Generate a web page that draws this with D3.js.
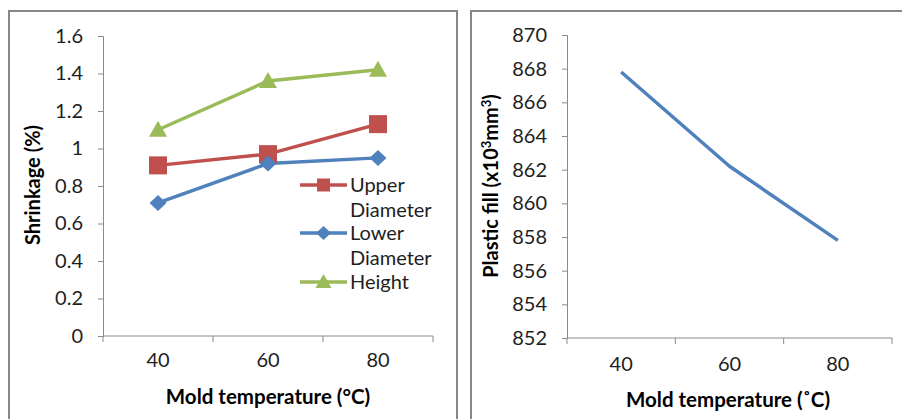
<!DOCTYPE html>
<html><head><meta charset="utf-8">
<script src="https://cdn.jsdelivr.net/npm/d3@7"></script>
<style>
body{margin:0;background:#fff;}
svg{display:block;font-family:Lato,"Open Sans",sans-serif;}
</style></head>
<body><svg id="c" width="902" height="419"></svg>
<script>
const temps = ["40","60","80"];
const upperDiameter = [0.91, 0.97, 1.13];
const lowerDiameter = [0.71, 0.92, 0.95];
const heightShrink = [1.10, 1.36, 1.42];
const shrinkTicks = [0,0.2,0.4,0.6,0.8,1,1.2,1.4,1.6];
const plasticFill = [867.8, 862.2, 857.8];
const fillTicks = [852,854,856,858,860,862,864,866,868,870];

const svg = d3.select("#c");
const border = "#878787";
const axisCol = "#8a8a8a";
const txtCol = "#1e1e1e";
const FONT = "Lato,'Open Sans',sans-serif";

// panel borders
svg.append("path").attr("d","M9,419V11H457V419").attr("fill","none").attr("stroke",border).attr("stroke-width",2);
svg.append("path").attr("d","M471,419V11H905").attr("fill","none").attr("stroke",border).attr("stroke-width",2);

function styleAxis(g){
  g.selectAll("path,line").attr("stroke",axisCol).attr("stroke-width",1);
  g.selectAll("text").attr("fill",txtCol).style("font-size","20px").style("font-family",FONT);
}
function catTicks(g, x){
  g.select(".domain").remove();
  const [a,b] = x.range();
  g.append("line").attr("x1",a).attr("x2",b).attr("stroke",axisCol);
  x.domain().map(d=>x(d)).concat([b]).forEach(xv=>{
    g.append("line").attr("x1",xv).attr("x2",xv).attr("y1",0).attr("y2",6).attr("stroke",axisCol);
  });
}

// ---- Left chart
const x1 = d3.scaleBand().domain(temps).range([103,433]);
const y1 = d3.scaleLinear().domain([0,1.6]).range([336,36]);
const gy1 = svg.append("g").attr("transform","translate(103,0)")
  .call(d3.axisLeft(y1).tickValues(shrinkTicks).tickFormat(d3.format("~g")).tickSize(5).tickPadding(15));
styleAxis(gy1);
const gx1 = svg.append("g").attr("transform","translate(0,336)")
  .call(d3.axisBottom(x1).tickSize(0).tickPadding(17));
styleAxis(gx1);
catTicks(gx1, x1);

const series = [
  {name:"Height", vals:heightShrink, color:"#9BBB59", shape:"tri"},
  {name:"Upper", vals:upperDiameter, color:"#C0504D", shape:"sq"},
  {name:"Lower", vals:lowerDiameter, color:"#4F81BD", shape:"dia"}
];
function marker(g, shape, color, cx, cy){
  if(shape==="sq") g.append("rect").attr("x",cx-9).attr("y",cy-9).attr("width",18).attr("height",18).attr("fill",color);
  else if(shape==="dia") g.append("path").attr("d",`M${cx},${cy-8}L${cx+8.5},${cy}L${cx},${cy+8}L${cx-8.5},${cy}Z`).attr("fill",color);
  else g.append("path").attr("d",`M${cx},${cy-9}L${cx+9},${cy+7}L${cx-9},${cy+7}Z`).attr("fill",color);
}
const cx1 = i => x1(temps[i])+x1.bandwidth()/2;
const line1 = d3.line().x((d,i)=>cx1(i)).y(d=>y1(d));
series.forEach(s=>{
  svg.append("path").attr("d",line1(s.vals)).attr("fill","none").attr("stroke",s.color).attr("stroke-width",3.5);
});
series.forEach(s=>{
  s.vals.forEach((v,i)=>marker(svg,s.shape,s.color,cx1(i),y1(v)));
});

// legend
const leg = [
  {lines:["Upper","Diameter"], color:"#C0504D", shape:"sq", y:185},
  {lines:["Lower","Diameter"], color:"#4F81BD", shape:"dia", y:233},
  {lines:["Height"], color:"#9BBB59", shape:"tri", y:282}
];
leg.forEach(l=>{
  svg.append("line").attr("x1",300).attr("x2",347).attr("y1",l.y).attr("y2",l.y).attr("stroke",l.color).attr("stroke-width",3.5);
  const g = svg.append("g");
  if(l.shape==="sq") g.append("rect").attr("x",317).attr("y",l.y-6.5).attr("width",13).attr("height",13).attr("fill",l.color);
  else if(l.shape==="dia") g.append("path").attr("d",`M323.5,${l.y-7}L331,${l.y}L323.5,${l.y+7}L316,${l.y}Z`).attr("fill",l.color);
  else g.append("path").attr("d",`M323.5,${l.y-8}L331.5,${l.y+6}L315.5,${l.y+6}Z`).attr("fill",l.color);
  l.lines.forEach((t,j)=>{
    svg.append("text").attr("x",350).attr("y",l.y+j*25).attr("dy","0.36em").attr("fill",txtCol)
      .style("font-size","20px").text(t);
  });
});

svg.append("text").attr("transform","translate(33,185) rotate(-90)").attr("text-anchor","middle").attr("dy","0.35em")
  .attr("fill","#000").style("font-size","20px").style("font-weight","bold").text("Shrinkage (%)");
svg.append("text").attr("x",268).attr("y",397).attr("text-anchor","middle").attr("dy","0.36em")
  .attr("fill","#000").style("font-size","20.5px").style("font-weight","bold").text("Mold temperature (°C)");

// ---- Right chart
const x2 = d3.scaleBand().domain(temps).range([567,892]);
const y2 = d3.scaleLinear().domain([852,870]).range([338,35]);
const gy2 = svg.append("g").attr("transform","translate(567,0)")
  .call(d3.axisLeft(y2).tickValues(fillTicks).tickSize(5).tickPadding(15));
styleAxis(gy2);
const gx2 = svg.append("g").attr("transform","translate(0,338)")
  .call(d3.axisBottom(x2).tickSize(0).tickPadding(19));
styleAxis(gx2);
catTicks(gx2, x2);
const line2 = d3.line().x((d,i)=>x2(temps[i])+x2.bandwidth()/2).y(d=>y2(d));
svg.append("path").attr("d",line2(plasticFill)).attr("fill","none").attr("stroke","#4F81BD")
  .attr("stroke-width",3.5).attr("stroke-linejoin","round");

const yt = svg.append("text").attr("transform","translate(491,186) rotate(-90)").attr("text-anchor","middle").attr("dy","0.35em")
  .attr("fill","#000").style("font-size","20px").style("font-weight","bold");
yt.append("tspan").text("Plastic fill (x10");
yt.append("tspan").attr("dy","-7").style("font-size","13px").text("3");
yt.append("tspan").attr("dy","7").text("mm");
yt.append("tspan").attr("dy","-7").style("font-size","13px").text("3");
yt.append("tspan").attr("dy","7").text(")");
svg.append("text").attr("x",728).attr("y",400).attr("text-anchor","middle").attr("dy","0.36em")
  .attr("fill","#000").style("font-size","20.5px").style("font-weight","bold").text("Mold temperature (˚C)");
</script></body></html>
